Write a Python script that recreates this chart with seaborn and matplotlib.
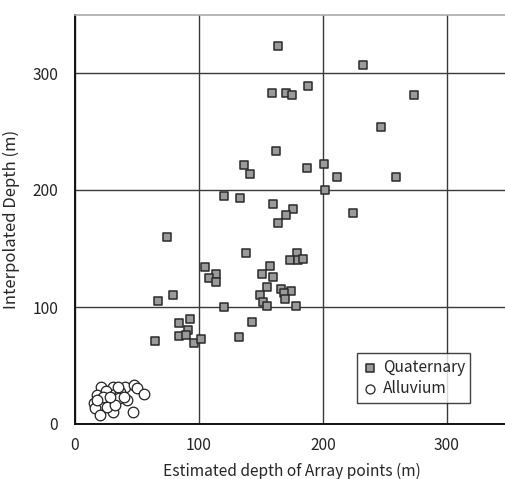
import numpy as np
import pandas as pd
import matplotlib
matplotlib.use("Agg")
import matplotlib.pyplot as plt
import seaborn as sns

# Quaternary points (estimated depth, interpolated depth)
quat_x = [164, 232, 159, 170, 175, 188, 273, 247, 162, 136, 141, 187, 201, 211, 259,
          202, 224, 120, 133, 160, 176, 170, 164, 74, 138, 179, 173, 180, 184, 157,
          105, 114, 108, 114, 151, 160, 155, 166, 174, 168.5, 169, 149, 152, 155, 178,
          120, 79, 67, 93, 84, 91, 84, 89.5, 96, 102, 64.5, 143, 132]
quat_y = [323, 307, 283, 283, 281, 289, 281, 254, 233, 221, 214, 219, 222, 211, 211,
          200, 180, 195, 193, 188, 183.5, 179, 172, 160, 146, 146, 140, 140, 141, 135,
          134, 128, 124.5, 121, 128, 126, 117, 115, 114, 112, 107, 110, 104, 101, 101,
          100, 110, 105, 90, 86, 80, 75, 76, 69, 72.6, 71, 87, 74]

# Alluvium points
allu_x = [20.7, 30.4, 40.6, 47.6, 50.3, 55.6, 18, 25, 32.3, 36.3, 35.7, 42, 21.5, 26.9,
          15.6, 20, 16, 20, 30.4, 46.5, 25.5, 32.3, 22.8, 28.2, 39.5, 17.5, 35]
allu_y = [31.4, 32, 31.4, 33, 30.5, 26, 24.8, 28.5, 26, 27.6, 22, 20.5, 20.5, 19.7,
          18.2, 16, 13.4, 7.7, 10.5, 10.5, 14.8, 16.2, 23.4, 23.4, 23.4, 20.5, 32]

ticks = [0, 100, 200, 300]

sns.set_style("white")
plt.rcParams['font.family'] = ['Noto Sans CJK JP', 'DejaVu Sans']
plt.rcParams['font.size'] = 11

fig = plt.figure(figsize=(5.05, 4.79), dpi=100)
ax = fig.add_axes([75 / 505, 55 / 479, 434 / 505, 409.5 / 479])

quat = pd.DataFrame({"x": quat_x, "y": quat_y})
allu = pd.DataFrame({"x": allu_x, "y": allu_y})

sns.scatterplot(data=quat, x="x", y="y", marker="s", s=36, color="#9a9a9a",
                edgecolor="#2a2a2a", linewidth=1.1, label="Quaternary", ax=ax, zorder=3)
sns.scatterplot(data=allu, x="x", y="y", marker="o", s=58, color="white",
                edgecolor="#222222", linewidth=0.9, label="Alluvium", ax=ax, zorder=3)

ax.set_xlim(0, 350)
ax.set_ylim(0, 350)
ax.set_xticks(ticks)
ax.set_yticks(ticks)
ax.grid(True, color="#3a3a3a", linewidth=1.0)
ax.set_axisbelow(True)
ax.tick_params(length=0, labelsize=11.2, colors="#222222")
ax.tick_params(axis="y", pad=12)
ax.tick_params(axis="x", pad=9)

ax.spines["left"].set_color("#111111")
ax.spines["left"].set_linewidth(1.4)
ax.spines["bottom"].set_color("#111111")
ax.spines["bottom"].set_linewidth(1.4)
ax.spines["top"].set_color("#aaaaaa")
ax.spines["top"].set_linewidth(1.2)
ax.spines["right"].set_visible(False)

ax.set_xlabel("Estimated depth of Array points (m)", fontsize=11.2, labelpad=7)
ax.set_ylabel("Interpolated Depth (m)", fontsize=12, labelpad=9)

leg = ax.legend(loc="upper left", bbox_to_anchor=(0.65, 0.173), frameon=True,
                fancybox=False, edgecolor="#111111", fontsize=11.2,
                handletextpad=0.3, handlelength=1.0, borderpad=0.35,
                labelspacing=0.3, borderaxespad=0, markerscale=0.85)
leg.get_frame().set_linewidth(1.0)

fig.savefig("out.png", dpi=100)
